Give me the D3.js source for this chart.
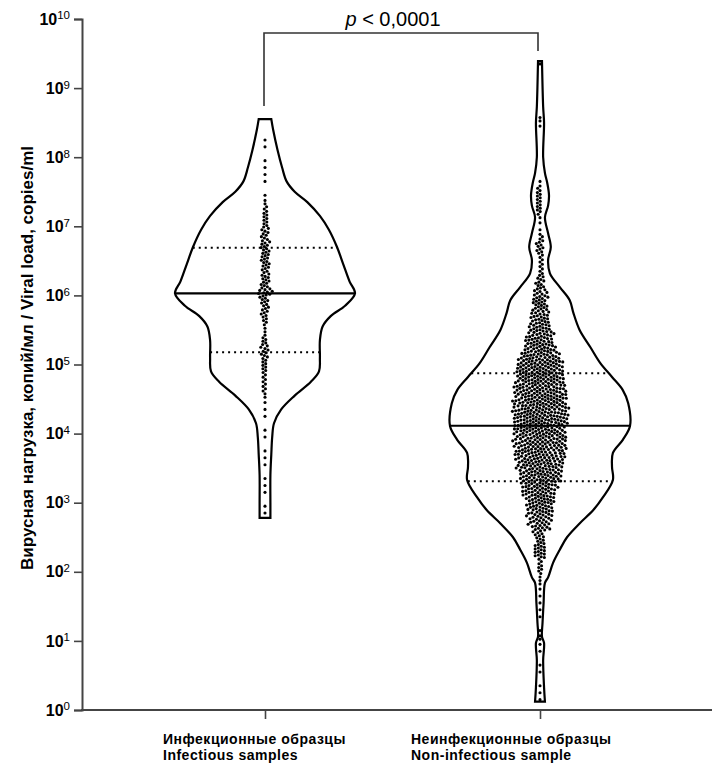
<!DOCTYPE html>
<html>
<head>
<meta charset="utf-8">
<script src="https://cdn.jsdelivr.net/npm/d3@7"></script>
<style>
body { margin: 0; background: #fff; }
svg { display: block; font-family: Arial, "Liberation Sans", sans-serif; }
</style>
</head>
<body>
<div id="chart"></div>
<script>
// categories
var groups = ["Инфекционные образцы", "Неинфекционные образцы"];
var groupsEn = ["Infectious samples", "Non-infectious sample"];

// summary lines (copies/ml)
var medians = [1.07e6, 1.3e4];
var quartile1 = [1.5e5, 2.05e3];
var quartile3 = [4.9e6, 7.5e4];

// violin outlines: log10 level and relative density (1 = widest)
var infOutlineLog = [2.78, 3.0, 3.4, 3.7, 3.95, 4.15, 4.35, 4.55, 4.75, 4.9, 5.1, 5.35, 5.55, 5.7, 5.85, 6.03, 6.2, 6.45, 6.7, 6.95, 7.15, 7.35, 7.5, 7.65, 7.85, 8.1, 8.4, 8.55];
var infOutlineDensity = [0.06, 0.06, 0.06, 0.07, 0.08, 0.10, 0.18, 0.33, 0.51, 0.60, 0.61, 0.61, 0.64, 0.73, 0.89, 1.0, 0.94, 0.87, 0.80, 0.71, 0.61, 0.47, 0.33, 0.24, 0.19, 0.14, 0.09, 0.07];
var nonOutlineLog = [0.12, 0.33, 0.72, 0.97, 1.06, 1.26, 1.55, 1.84, 1.92, 2.13, 2.32, 2.5, 2.7, 2.89, 3.08, 3.33, 3.52, 3.72, 3.91, 4.11, 4.44, 4.63, 4.82, 5.02, 5.25, 5.5, 5.75, 5.93, 6.12, 6.32, 6.51, 6.7, 6.9, 7.13, 7.3, 7.45, 7.63, 7.77, 8.0, 8.5, 8.73, 9.39];
var nonOutlineDensity = [0.055, 0.045, 0.035, 0.045, 0.022, 0.028, 0.04, 0.055, 0.09, 0.145, 0.22, 0.30, 0.44, 0.59, 0.70, 0.81, 0.80, 0.81, 0.92, 1.0, 0.98, 0.92, 0.80, 0.67, 0.56, 0.44, 0.37, 0.33, 0.22, 0.11, 0.09, 0.12, 0.09, 0.055, 0.09, 0.10, 0.08, 0.055, 0.035, 0.045, 0.035, 0.022];

// sample counts per 0.1-decade bin
var binStep = 0.1;
var infBinStart = 2.8;
var infCounts = [1, 1, 0, 1, 1, 1, 0, 1, 1, 1, 0, 1, 1, 0, 1, 1, 1, 2, 3, 3, 3, 4, 4, 5, 5, 4, 2, 2, 4, 5, 5, 6, 9, 6, 6, 5, 6, 6, 6, 6, 5, 5, 4, 4, 3, 2, 1, 0, 1, 1, 1, 1, 0, 1, 1];
var nonBinStart = 0.1;
var nonCounts = [1, 1, 1, 0, 1, 1, 0, 1, 1, 2,
    1, 0, 1, 1, 1, 1, 1, 2, 2, 4,
    3, 8, 8, 6, 7, 12, 14, 16, 17, 19,
    21, 23, 26, 27, 29, 30, 31, 32, 32, 33,
    35, 35, 34, 34, 33, 32, 31, 31, 30, 28,
    24, 20, 18, 16, 14, 12, 11, 10, 10, 8,
    6, 5, 3, 3, 3, 5, 5, 3, 1, 1,
    2, 4, 4, 4, 3, 1, 0, 0, 0, 0,
    0, 0, 0, 1, 2, 0, 0, 0, 0, 0,
    0, 0, 1];

// y ticks
var yTickValues = [1e0, 1e1, 1e2, 1e3, 1e4, 1e5, 1e6, 1e7, 1e8, 1e9, 1e10];
var yLabel = "Вирусная нагрузка, копий/мл / Viral load, copies/ml";
var pText = ["p", " < 0,0001"];

var W = 712, H = 765;
var svg = d3.select("#chart").append("svg").attr("width", W).attr("height", H);

var y = d3.scaleLog().domain([1, 1e10]).range([710, 19]);
var x = d3.scalePoint().domain(groups).range([265, 540]);
var half = d3.scaleLinear().domain([0, 1]).range([0, 90]);

//draw one violin
function violin(cx, logs, dens) {
    var pts = logs.map(function (l, i) { return {l: l, d: dens[i]}; });
    var area = d3.area()
        .y(function (d) { return y(Math.pow(10, d.l)); })
        .x0(function (d) { return cx - half(d.d); })
        .x1(function (d) { return cx + half(d.d); })
        .curve(d3.curveCatmullRom.alpha(0.5));
    svg.append("path")
        .attr("d", area(pts))
        .attr("fill", "#fff")
        .attr("stroke", "#000")
        .attr("stroke-width", 2.2);
}

function widthAt(logs, dens, v) {
    var s = d3.scaleLinear().domain(logs).range(dens);
    return half(s(Math.log10(v)));
}

function statLine(cx, logs, dens, v, dotted) {
    var hw = widthAt(logs, dens, v);
    svg.append("line")
        .attr("x1", cx - hw).attr("x2", cx + hw)
        .attr("y1", y(v)).attr("y2", y(v))
        .attr("stroke", "#000")
        .attr("stroke-width", dotted ? 2 : 2.2)
        .attr("stroke-dasharray", dotted ? "2,4" : null);
}

// simple beeswarm: each dot goes as close to the centre as it can
function swarm(ys, d) {
    var order = d3.range(ys.length).sort(function (a, b) { return ys[a] - ys[b]; });
    var xs = new Array(ys.length);
    var placed = [];
    var flip = 1;
    order.forEach(function (i) {
        var yy = ys[i];
        var near = placed.filter(function (p) { return Math.abs(p.y - yy) < d; });
        var cands = [0];
        near.forEach(function (p) {
            var dx = Math.sqrt(d * d - (p.y - yy) * (p.y - yy));
            cands.push(p.x - dx, p.x + dx);
        });
        cands.sort(function (a, b) { return (Math.abs(a) - Math.abs(b)) || (a - b) * flip; });
        var best = cands.find(function (c) {
            return near.every(function (p) {
                return (c - p.x) * (c - p.x) + (yy - p.y) * (yy - p.y) >= d * d - 1e-6;
            });
        });
        flip = -flip;
        placed.push({x: best, y: yy});
        xs[i] = best;
    });
    return xs;
}

function dots(cx, start, counts) {
    var vals = [];
    counts.forEach(function (n, i) {
        for (var j = 0; j < n; j++) {
            vals.push(Math.pow(10, start + i * binStep + (j + 0.5) / n * binStep));
        }
    });
    var ys = vals.map(function (v) { return y(v); });
    var xs = swarm(ys, 3.3);
    svg.append("g").selectAll("circle")
        .data(ys)
        .enter()
        .append("circle")
        .attr("cx", function (d, i) { return cx + xs[i]; })
        .attr("cy", function (d) { return d; })
        .attr("r", 1.55)
        .attr("fill", "#000");
}

var outlines = [[infOutlineLog, infOutlineDensity], [nonOutlineLog, nonOutlineDensity]];
var bins = [[infBinStart, infCounts], [nonBinStart, nonCounts]];

groups.forEach(function (g, i) {
    var cx = x(g);
    var o = outlines[i];
    violin(cx, o[0], o[1]);
    statLine(cx, o[0], o[1], quartile3[i], true);
    statLine(cx, o[0], o[1], quartile1[i], true);
    statLine(cx, o[0], o[1], medians[i], false);
    dots(cx, bins[i][0], bins[i][1]);
});

// y axis
var yAxis = svg.append("g")
    .attr("transform", "translate(82,0)")
    .call(d3.axisLeft(y).tickValues(yTickValues).tickSize(8).tickPadding(4).tickFormat(""));
yAxis.select(".domain").attr("stroke", "#444").attr("stroke-width", 2);
yAxis.selectAll(".tick line").attr("stroke", "#444").attr("stroke-width", 1.6);
yAxis.selectAll(".tick text").each(function (d) {
    var t = d3.select(this);
    t.attr("font-size", 16).attr("font-weight", "bold").attr("fill", "#000");
    t.append("tspan").text("10");
    t.append("tspan").attr("dy", "-0.45em").attr("font-size", 11.5).attr("font-weight", "normal")
        .text(Math.round(Math.log10(d)));
});

// x axis
svg.append("line")
    .attr("x1", 81).attr("x2", 712)
    .attr("y1", 710).attr("y2", 710)
    .attr("stroke", "#444").attr("stroke-width", 2);
var xAxis = svg.append("g")
    .attr("transform", "translate(0,710)")
    .call(d3.axisBottom(x).tickSize(9).tickFormat(""));
xAxis.select(".domain").remove();
xAxis.selectAll(".tick line").attr("stroke", "#444").attr("stroke-width", 1.6);

groups.forEach(function (g, i) {
    var left = x(g) - (i === 0 ? 102 : 129);
    svg.append("text")
        .attr("x", left).attr("y", 744)
        .attr("font-size", 14).attr("font-weight", "bold")
        .attr("letter-spacing", 0.5)
        .text(g);
    svg.append("text")
        .attr("x", left).attr("y", 760)
        .attr("font-size", 14).attr("font-weight", "bold")
        .attr("letter-spacing", 0.5)
        .text(groupsEn[i]);
});

// y label
svg.append("text")
    .attr("transform", "translate(33,358) rotate(-90)")
    .attr("text-anchor", "middle")
    .attr("font-size", 17).attr("font-weight", "bold")
    .text(yLabel);

// significance bracket
var bx0 = x(groups[0]) - 1, bx1 = x(groups[1]) - 2;
svg.append("path")
    .attr("d", "M" + bx0 + ",106V33H" + bx1 + "V51")
    .attr("fill", "none")
    .attr("stroke", "#333")
    .attr("stroke-width", 1.6);
var pt = svg.append("text")
    .attr("x", (bx0 + bx1) / 2 - 8).attr("y", 26)
    .attr("text-anchor", "middle")
    .attr("font-size", 20);
pt.append("tspan").attr("font-style", "italic").text(pText[0]);
pt.append("tspan").text(pText[1]);
</script>
</body>
</html>
